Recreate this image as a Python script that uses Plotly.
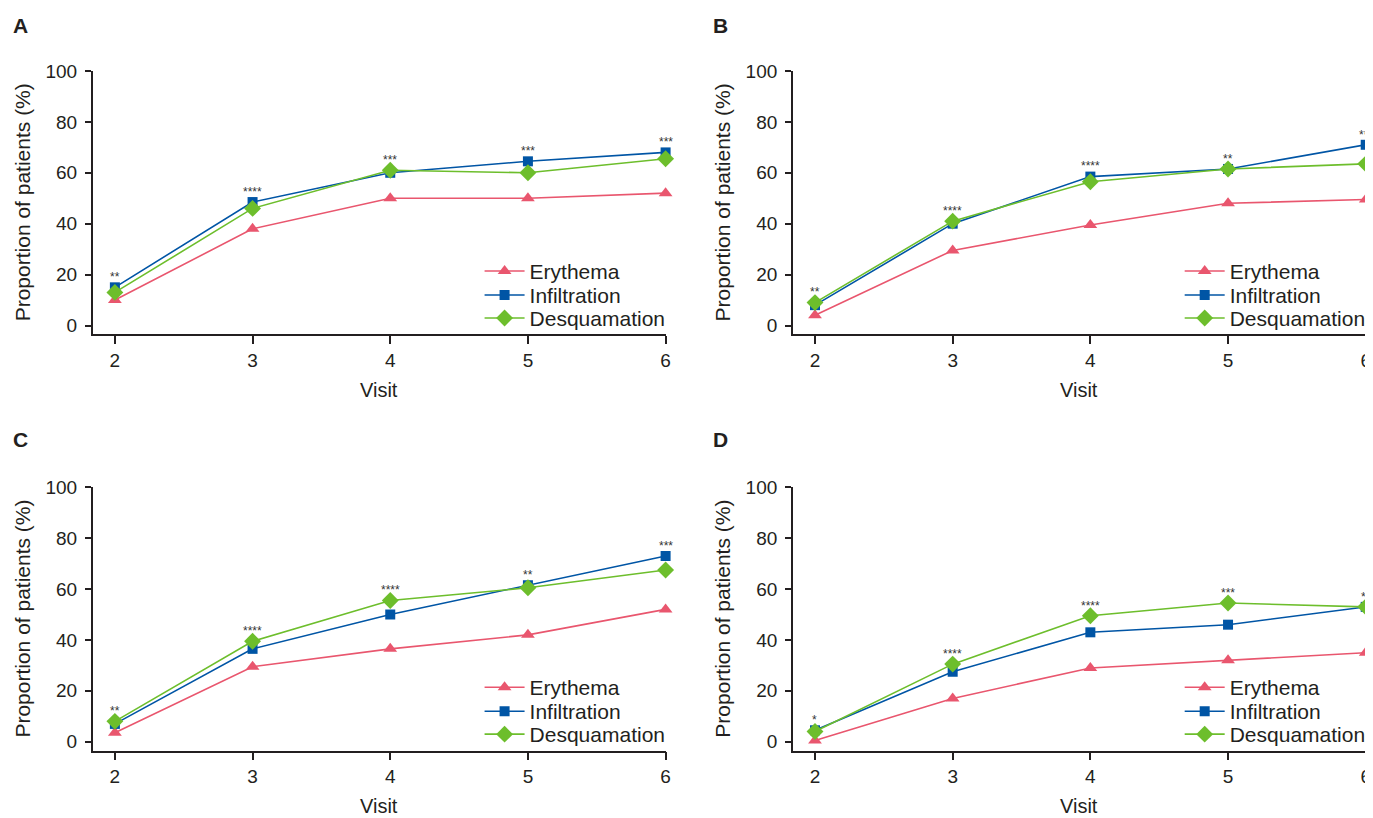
import plotly.graph_objects as go

visits = [2, 3, 4, 5, 6]
series_names = ["Erythema", "Infiltration", "Desquamation"]

# Panel A
a_erythema = [10, 38, 50, 50, 52]
a_infiltration = [15, 48.5, 60, 64.5, 68]
a_desquamation = [13, 46, 61, 60, 65.5]
a_sig = ["**", "****", "***", "***", "***"]

# Panel B
b_erythema = [4, 29.5, 39.5, 48, 49.5]
b_infiltration = [8, 40, 58.5, 61.5, 71]
b_desquamation = [9, 41, 56.5, 61.5, 63.5]
b_sig = ["**", "****", "****", "**", "***"]

# Panel C
c_erythema = [3.5, 29.5, 36.5, 42, 52]
c_infiltration = [7, 36.5, 50, 61.5, 73]
c_desquamation = [8, 39.5, 55.5, 60.5, 67.5]
c_sig = ["**", "****", "****", "**", "***"]

# Panel D
d_erythema = [0.5, 17, 29, 32, 35]
d_infiltration = [4.5, 27.5, 43, 46, 53]
d_desquamation = [4, 30.5, 49.5, 54.5, 53]
d_sig = ["*", "****", "****", "***", "**"]

panel_letters = ["A", "B", "C", "D"]
y_ticks = [0, 20, 40, 60, 80, 100]

W, H = 1373, 818
# screen-pixel -> paper conversion (compensates the page offset)
def px(x):
    return ((x - 6.8) / 0.9962) / W
def py(y):
    return 1 - ((y - 18) / 0.986) / H

colors = {"Erythema": "#E9566E", "Infiltration": "#0055A5", "Desquamation": "#6DBE2C"}
symbols = {"Erythema": "triangle-up", "Infiltration": "square", "Desquamation": "diamond"}
msize = {"Erythema": 12, "Infiltration": 10, "Desquamation": 13}
leg_dy = {"Erythema": -63, "Infiltration": -39, "Desquamation": -16}
AX = "#231F20"
FONT = "Liberation Sans, Arial, sans-serif"

panels = [
    dict(data=[a_erythema, a_infiltration, a_desquamation], sig=a_sig, left=91.5, right=664.3, top=71, bottom=334.5),
    dict(data=[b_erythema, b_infiltration, b_desquamation], sig=b_sig, left=791.5, right=1364.3, top=71, bottom=334.5),
    dict(data=[c_erythema, c_infiltration, c_desquamation], sig=c_sig, left=91.5, right=664.3, top=487.6, bottom=751),
    dict(data=[d_erythema, d_infiltration, d_desquamation], sig=d_sig, left=791.5, right=1364.3, top=487.6, bottom=751),
]

fig = go.Figure()
annotations = []
layout_axes = {}
leg_count = 0

for i, p in enumerate(panels):
    n = i + 1
    xa = "x" if n == 1 else f"x{n}"
    ya = "y" if n == 1 else f"y{n}"
    for name, vals in zip(series_names, p["data"]):
        leg_count += 1
        leg = "legend" if leg_count == 1 else f"legend{leg_count}"
        fig.add_trace(go.Scatter(
            x=visits, y=vals, name=name, mode="lines+markers",
            line=dict(color=colors[name], width=1.6),
            marker=dict(symbol=symbols[name], size=msize[name], color=colors[name]),
            xaxis=xa, yaxis=ya, legend=leg, cliponaxis=False,
        ))
        layout_axes[leg] = dict(
            x=px(p["right"] - 186), y=py(p["bottom"] + leg_dy[name]),
            xanchor="left", yanchor="middle",
            bgcolor="rgba(0,0,0,0)", font=dict(size=21, color=AX, family=FONT),
            itemwidth=40,
        )
    xkey = "xaxis" if n == 1 else f"xaxis{n}"
    ykey = "yaxis" if n == 1 else f"yaxis{n}"
    layout_axes[xkey] = dict(
        domain=[px(p["left"]), px(p["right"])], anchor=ya,
        range=[1.839, 6], tickvals=visits, ticks="outside", ticklen=8,
        tickwidth=1.5, tickcolor=AX, showline=True, linecolor=AX, linewidth=1.5,
        showgrid=False, zeroline=False, tickfont=dict(size=19, color=AX, family=FONT),
    )
    layout_axes[ykey] = dict(
        domain=[py(p["bottom"]), py(p["top"])], anchor=xa,
        range=[-3.45, 100], tickvals=y_ticks, ticks="outside", ticklen=6,
        tickwidth=1.5, tickcolor=AX, showline=True, linecolor=AX, linewidth=1.5,
        showgrid=False, zeroline=False, tickfont=dict(size=19, color=AX, family=FONT),
        ticklabelstandoff=4,
    )
    # significance stars
    for j, v in enumerate(visits):
        top = max(p["data"][0][j], p["data"][1][j], p["data"][2][j])
        annotations.append(dict(
            x=v, y=top + 4, xref=xa, yref=ya, text=p["sig"][j], showarrow=False,
            font=dict(size=12, color="#333333", family=FONT), yanchor="middle",
        ))
    # axis titles
    annotations.append(dict(
        x=px(p["left"] - 70), y=py((p["top"] + p["bottom"]) / 2), xref="paper", yref="paper",
        text="Proportion of patients (%)", textangle=-90, showarrow=False,
        font=dict(size=21, color=AX, family=FONT), xanchor="center", yanchor="middle",
    ))
    annotations.append(dict(
        x=px((p["left"] + p["right"]) / 2), y=py(p["bottom"] + 56), xref="paper", yref="paper",
        text="Visit", showarrow=False,
        font=dict(size=20, color=AX, family=FONT), xanchor="center", yanchor="middle",
    ))
    # panel letter
    annotations.append(dict(
        x=px(p["left"] - 72), y=min(py(p["top"] - 48), 1 - 8 / H), xref="paper", yref="paper",
        text=f"<b>{panel_letters[i]}</b>", showarrow=False,
        font=dict(size=21, color=AX, family=FONT), xanchor="center", yanchor="middle",
    ))

fig.update_layout(
    width=W, height=H, margin=dict(l=0, r=0, t=0, b=0),
    paper_bgcolor="white", plot_bgcolor="white",
    annotations=annotations, showlegend=True,
    **layout_axes,
)

fig.write_html("out.html")
